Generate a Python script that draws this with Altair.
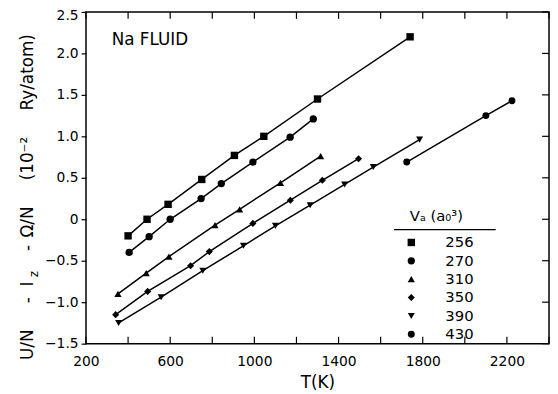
import altair as alt
import pandas as pd

FONT = "DejaVu Sans"

V_LABELS = ["256", "270", "310", "350", "390", "430"]
T_256 = [400, 490, 590, 750, 905, 1045, 1300, 1740]
U_256 = [-0.20, 0.00, 0.18, 0.48, 0.77, 1.00, 1.45, 2.20]
T_270 = [405, 500, 600, 747, 843, 993, 1170, 1280]
U_270 = [-0.40, -0.21, 0.00, 0.25, 0.43, 0.69, 0.99, 1.21]
T_310 = [352, 486, 594, 813, 930, 1124, 1315]
U_310 = [-0.90, -0.65, -0.45, -0.07, 0.12, 0.44, 0.76]
T_350 = [341, 493, 697, 786, 993, 1171, 1323, 1495]
U_350 = [-1.15, -0.87, -0.56, -0.39, -0.05, 0.23, 0.47, 0.73]
T_390 = [355, 557, 755, 948, 1100, 1265, 1429, 1565, 1785]
U_390 = [-1.25, -0.94, -0.62, -0.32, -0.08, 0.17, 0.42, 0.63, 0.96]
T_430 = [1724, 2100, 2224]
U_430 = [0.69, 1.25, 1.43]

X_TICKS = [200, 400, 600, 800, 1000, 1200, 1400, 1600, 1800, 2000, 2200, 2400]
Y_TICKS = [-1.5, -1.0, -0.5, 0.0, 0.5, 1.0, 1.5, 2.0, 2.5]
SHAPES = ["square", "circle", "triangle-up", "diamond", "triangle-down", "circle"]
SIZES = [56, 49, 125, 105, 125, 130]

series = [(V_LABELS[0], T_256, U_256), (V_LABELS[1], T_270, U_270),
          (V_LABELS[2], T_310, U_310), (V_LABELS[3], T_350, U_350),
          (V_LABELS[4], T_390, U_390), (V_LABELS[5], T_430, U_430)]
rows = []
for name, ts, us in series:
    for t, u in zip(ts, us):
        rows.append({"V": name, "T": t, "U": u})
df = pd.DataFrame(rows)

W, H = 469, 336
TICK = 7

xscale = alt.Scale(domain=[200, 2400], nice=False, zero=False)
yscale = alt.Scale(domain=[-1.5, 2.5], nice=False, zero=False)

lines = alt.Chart(df).mark_line(color="black", strokeWidth=1.5).encode(
    x=alt.X("T:Q", scale=xscale, axis=alt.Axis(
        orient="bottom", values=X_TICKS, ticks=False, domain=False, grid=False,
        labelExpr="(datum.value-200)%400==0 && datum.value<2400 ? format(datum.value,'d') : ''",
        labelFontSize=14, labelPadding=11, title="T(K)", titleFontSize=17, titlePadding=6,
        labelFlush=False)),
    y=alt.Y("U:Q", scale=yscale, axis=alt.Axis(
        orient="left", values=Y_TICKS, tickSize=5, domain=False, grid=False,
        labelExpr="datum.value==0 ? '0' : format(datum.value,'.1f')",
        labelOffset={"condition": {"test": "datum.value == 2.5", "value": 3.5}, "value": 0},
        labelFontSize=14, labelPadding=3, title=None, labelFlush=False)),
    detail="V:N",
)

leg = alt.Legend(orient="none", legendX=322, legendY=226, title=None,
                 labelFont=FONT, labelFontSize=15, labelColor="black",
                 labelOffset=27, rowPadding=2.6, padding=0, symbolFillColor="black",
                 symbolStrokeWidth=0, symbolOpacity=1)

points = alt.Chart(df).mark_point(filled=True, color="black", opacity=1).encode(
    x=alt.X("T:Q", scale=xscale, axis=None),
    y=alt.Y("U:Q", scale=yscale, axis=None),
    shape=alt.Shape("V:N", scale=alt.Scale(domain=V_LABELS, range=SHAPES), legend=leg),
    size=alt.Size("V:N", scale=alt.Scale(domain=V_LABELS, range=SIZES), legend=leg),
)

xt = pd.DataFrame({"v": X_TICKS})
yt = pd.DataFrame({"v": Y_TICKS})
tick_bottom = alt.Chart(xt).mark_rule(color="black", strokeWidth=1.2).encode(
    x=alt.X("v:Q", scale=xscale, axis=None), y=alt.value(H - TICK), y2=alt.value(H))
tick_top = alt.Chart(xt).mark_rule(color="black", strokeWidth=1.2).encode(
    x=alt.X("v:Q", scale=xscale, axis=None), y=alt.value(0), y2=alt.value(TICK))
tick_right = alt.Chart(yt).mark_rule(color="black", strokeWidth=1.2).encode(
    y=alt.Y("v:Q", scale=yscale, axis=None), x=alt.value(W - TICK), x2=alt.value(W))


def txt(text, x, y, size, align="left", angle=0, baseline="middle"):
    return alt.Chart(pd.DataFrame({"t": [text]})).mark_text(
        text=text, font=FONT, fontSize=size, align=align, baseline=baseline,
        angle=angle, color="black").encode(x=alt.value(x), y=alt.value(y))


one = pd.DataFrame({"a": [0]})
underline = alt.Chart(one).mark_rule(color="black", strokeWidth=1.2).encode(
    x=alt.value(312), x2=alt.value(415), y=alt.value(220.5))

YX = -59
annotations = [
    txt("Na FLUID", 26, 28.5, 17),
    txt("Vₐ (a₀³)", 328, 207, 15),
    txt("U/N", YX, 352.5, 17, align="left", angle=270),
    txt("-", YX, 292, 17, align="center", angle=270),
    txt("I", YX, 275.5, 17, align="center", angle=270),
    txt("z", YX + 6, 265.5, 12, align="center", angle=270),
    txt("-", YX, 239, 17, align="center", angle=270),
    txt("Ω/N", YX, 228.5, 17, align="left", angle=270),
    txt("(10⁻²", YX, 170.5, 17, align="left", angle=270),
    txt("Ry/atom)", YX, 22.5, 17, align="right", angle=270),
]

chart = alt.layer(lines, tick_bottom, tick_top, tick_right, points, underline,
                  *annotations).resolve_axis(
    x="independent", y="independent"
).properties(
    width=W, height=H,
    autosize=alt.AutoSizeParams(type="none"),
    padding={"left": 79, "top": 1.5, "right": 1, "bottom": 48},
).configure_view(
    stroke="black", strokeWidth=1.5
).configure_axis(
    labelFont=FONT, titleFont=FONT, labelColor="black", titleColor="black",
    tickColor="black", tickWidth=1.2, titleFontWeight="normal"
)

chart.save("out.html", embed_options={"renderer": "svg", "actions": False})
